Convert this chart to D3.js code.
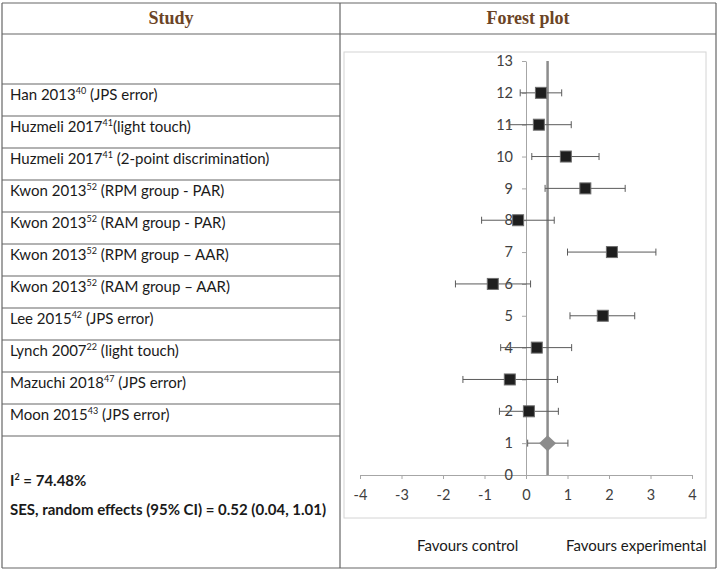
<!DOCTYPE html>
<html>
<head>
<meta charset="utf-8">
<script src="https://cdn.jsdelivr.net/npm/d3@7"></script>
<style>
  body { margin: 0; background: #fff; }
  svg text { font-family: Lato, "Open Sans", sans-serif; }
</style>
</head>
<body>
<svg id="chart" width="718" height="571"></svg>
<script>
// Study labels (name, superscript ref, outcome)
const studyNames = ['Han 2013', 'Huzmeli 2017', 'Huzmeli 2017', 'Kwon 2013', 'Kwon 2013', 'Kwon 2013',
    'Kwon 2013', 'Lee 2015', 'Lynch 2007', 'Mazuchi 2018', 'Moon 2015'];
const studyRefs = ['40', '41', '41', '52', '52', '52', '52', '42', '22', '47', '43'];
const studyOutcomes = [' (JPS error)', '(light touch)', ' (2-point discrimination)', ' (RPM group - PAR)',
    ' (RAM group - PAR)', ' (RPM group \u2013 AAR)', ' (RAM group \u2013 AAR)', ' (JPS error)',
    ' (light touch)', ' (JPS error)', ' (JPS error)'];

// Forest plot values, row position on the y axis (12 = top study)
const rowPos = [12, 11, 10, 9, 8, 7, 6, 5, 4, 3, 2];
const effect = [0.36, 0.31, 0.96, 1.43, -0.19, 2.07, -0.80, 1.85, 0.26, -0.39, 0.07];
const lower  = [-0.14, -0.39, 0.14, 0.46, -1.07, 1.00, -1.70, 1.06, -0.61, -1.52, -0.64];
const upper  = [0.86, 1.09, 1.76, 2.39, 0.68, 3.13, 0.11, 2.62, 1.10, 0.76, 0.78];

// Pooled estimate
const pooled = {row: 1, est: 0.52, lo: 0.04, hi: 1.01};

const xTicks = [-4, -3, -2, -1, 0, 1, 2, 3, 4];
const yTicks = d3.range(0, 14);

const svg = d3.select('#chart');

// ---- table grid ----
const tableLeft = 2, tableRight = 716, colSplit = 340;
const headTop = 3, headBottom = 34, firstRow = 84, rowH = 32, tableBottom = 568;
const rowLines = [headTop, headBottom, firstRow];
studyNames.forEach((d, i) => rowLines.push(firstRow + (i + 1) * rowH));
rowLines.push(tableBottom);

const grid = svg.append('g').attr('stroke', '#666').attr('stroke-width', 1.2);
rowLines.forEach(yy => {
    // rows inside the study column only; header and outer lines go full width
    const full = (yy === headTop || yy === headBottom || yy === tableBottom);
    grid.append('line')
        .attr('x1', tableLeft).attr('x2', full ? tableRight : colSplit)
        .attr('y1', yy).attr('y2', yy);
});
[tableLeft, colSplit, tableRight].forEach(xx => {
    grid.append('line').attr('x1', xx).attr('x2', xx).attr('y1', headTop).attr('y2', tableBottom);
});

// headers
svg.selectAll('.head')
    .data(['Study', 'Forest plot'])
    .join('text')
    .attr('x', (d, i) => i === 0 ? (tableLeft + colSplit) / 2 : (colSplit + tableRight) / 2)
    .attr('y', 24)
    .attr('text-anchor', 'middle')
    .style('font-family', '"Liberation Serif", "Times New Roman", serif')
    .style('font-weight', 'bold')
    .style('font-size', '18px')
    .attr('fill', '#6b4426')
    .text(d => d);

// study labels
const labels = svg.selectAll('.study')
    .data(studyNames)
    .join('text')
    .attr('x', 10)
    .attr('y', (d, i) => firstRow + i * rowH + 16)
    .attr('fill', '#1a1a1a')
    .style('font-size', '15px');
labels.append('tspan').text(d => d);
labels.append('tspan').attr('dy', -6).style('font-size', '9px').text((d, i) => studyRefs[i]);
labels.append('tspan').attr('dy', 6).text((d, i) => studyOutcomes[i]);

// summary stats
const stat1 = svg.append('text').attr('x', 10).attr('y', 486)
    .attr('fill', '#1a1a1a').style('font-weight', 'bold').style('font-size', '15px');
stat1.append('tspan').text('I');
stat1.append('tspan').attr('dy', -6).style('font-size', '9px').text('2');
stat1.append('tspan').attr('dy', 6).text(' = 74.48%');
svg.append('text').attr('x', 10).attr('y', 515)
    .attr('fill', '#1a1a1a').style('font-weight', 'bold').style('font-size', '15px')
    .text('SES, random effects (95% CI) = 0.52 (0.04, 1.01)');

// ---- forest plot ----
svg.append('rect')
    .attr('x', 344).attr('y', 52).attr('width', 362).attr('height', 466)
    .attr('fill', 'none').attr('stroke', '#d4d4d4');

const x = d3.scaleLinear().domain([-4, 4]).range([360, 692]);
const y = d3.scaleLinear().domain([0, 13]).range([475, 61]);

const xAxis = svg.append('g')
    .attr('transform', `translate(0,${y(0)})`)
    .call(d3.axisBottom(x).tickValues(xTicks).tickSizeInner(4).tickSizeOuter(0)
        .tickPadding(11).tickFormat(d => String(d)));
const yAxis = svg.append('g')
    .attr('transform', `translate(${x(0)},0)`)
    .call(d3.axisLeft(y).tickValues(yTicks).tickSizeInner(4).tickSizeOuter(0)
        .tickPadding(9).tickFormat(d => String(d)));
[xAxis, yAxis].forEach(g => {
    g.select('.domain').attr('stroke', '#a6a6a6');
    g.selectAll('.tick line').attr('stroke', '#a6a6a6');
    g.selectAll('.tick text').attr('fill', '#404040')
        .style('font-family', 'Lato, sans-serif').style('font-size', '14.5px');
});

// pooled effect reference line
svg.append('line')
    .attr('x1', x(pooled.est)).attr('x2', x(pooled.est))
    .attr('y1', y(13)).attr('y2', y(0))
    .attr('stroke', '#8c8c8c').attr('stroke-width', 2.5);

// error bars
const cap = 3.5;
const bars = svg.append('g').attr('stroke', '#5a5a5a').attr('stroke-width', 1);
effect.forEach((d, i) => {
    const yy = y(rowPos[i]);
    bars.append('line').attr('x1', x(lower[i])).attr('x2', x(upper[i])).attr('y1', yy).attr('y2', yy);
    bars.append('line').attr('x1', x(lower[i])).attr('x2', x(lower[i])).attr('y1', yy - cap).attr('y2', yy + cap);
    bars.append('line').attr('x1', x(upper[i])).attr('x2', x(upper[i])).attr('y1', yy - cap).attr('y2', yy + cap);
});
const py = y(pooled.row);
bars.append('line').attr('x1', x(pooled.lo)).attr('x2', x(pooled.hi)).attr('y1', py).attr('y2', py);
bars.append('line').attr('x1', x(pooled.lo)).attr('x2', x(pooled.lo)).attr('y1', py - cap).attr('y2', py + cap);
bars.append('line').attr('x1', x(pooled.hi)).attr('x2', x(pooled.hi)).attr('y1', py - cap).attr('y2', py + cap);

// study squares
const sq = 11;
svg.selectAll('.pt')
    .data(effect)
    .join('rect')
    .attr('x', d => x(d) - sq / 2)
    .attr('y', (d, i) => y(rowPos[i]) - sq / 2)
    .attr('width', sq).attr('height', sq)
    .attr('fill', '#1e1e1e').attr('stroke', '#6e6e6e').attr('stroke-width', 1);

// pooled diamond
const dx = 8.5, dy = 8;
svg.append('path')
    .attr('d', `M${x(pooled.est)},${py - dy}L${x(pooled.est) + dx},${py}L${x(pooled.est)},${py + dy}L${x(pooled.est) - dx},${py}Z`)
    .attr('fill', '#8c8c8c');

// favours labels
svg.append('text').attr('x', 417).attr('y', 551).attr('fill', '#1a1a1a').style('font-size', '15px').text('Favours control');
svg.append('text').attr('x', 566).attr('y', 551).attr('fill', '#1a1a1a').style('font-size', '15px').text('Favours experimental');
</script>
</body>
</html>
